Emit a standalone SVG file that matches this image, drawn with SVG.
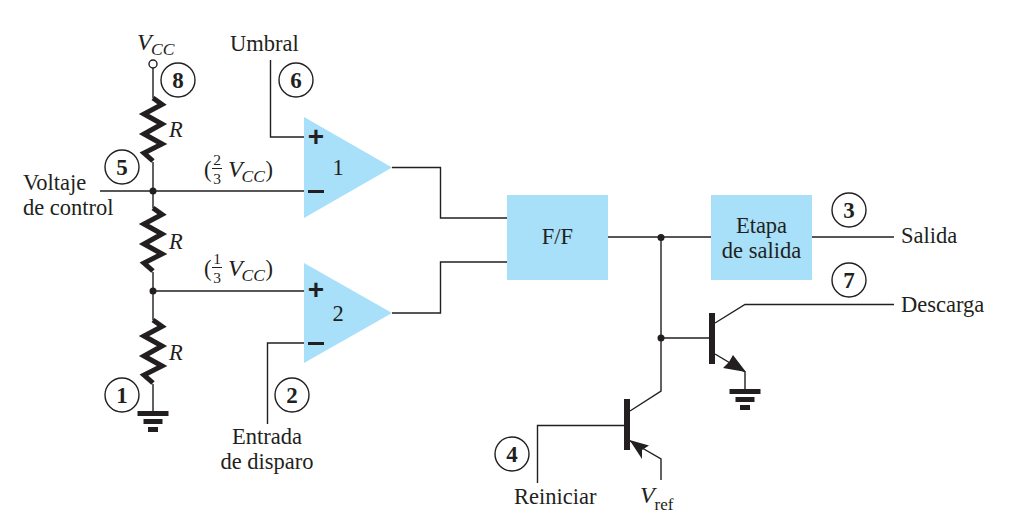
<svg xmlns="http://www.w3.org/2000/svg" width="1034" height="529" viewBox="0 0 1034 529">
<defs>
<style>
.w{fill:none;stroke:#231f20;stroke-width:1.4}
.r{fill:none;stroke:#231f20;stroke-width:5;stroke-linejoin:miter}
.b{fill:#a8dff9}
.k{fill:#231f20}
.c{fill:#fff;stroke:#231f20;stroke-width:1.4}
text{font-family:"Liberation Serif",serif;font-size:22.5px;fill:#231f20}
.n{font-weight:bold;font-size:23px;text-anchor:middle}
.i{font-style:italic}
.f{font-size:15.500px;text-anchor:middle}
.m{text-anchor:middle}
.p{font-family:"Liberation Sans",sans-serif;font-weight:bold;font-size:28px;text-anchor:middle}
.v{font-style:italic;font-size:24px}
.u{font-style:italic;font-size:17.500px}
</style>
<path id="res" class="r" d="M0 0 L9 6.500 L-9 16 L9 26 L-9 36 L9 46 L-9 55 L0 63"/>
<g id="gnd"><rect class="k" x="-15.500" y="0" width="31" height="5"/><rect class="k" x="-9.500" y="8" width="19" height="5"/><rect class="k" x="-5" y="16" width="10" height="5"/></g>
</defs>
<g id="connectors">
<path class="w" d="M153 68V98M153 162V208M153 272V320M153 384V411M100 191H304M153 291H304"/>
<path class="w" d="M270.500 60V137H304M267.500 424V343H304"/>
<path class="w" d="M392 167.500H440.500V218H507M392 313H440.500V262H507"/>
<path class="w" d="M608 237H711M812 237H894M661 237V391L630 411"/>
<path class="w" d="M661 338H710M715 323L745 304.500H894"/>
<path class="w" d="M715 354L745 372V389"/>
<path class="k" d="M746 372L723 368L729 362L733 355Z"/>
<path class="w" d="M630 441L661 459V480"/>
<path class="k" d="M629.500 440L649 445.500L642 450L642 459Z"/>
<path class="w" d="M537.500 483V425.500H625"/>
<circle class="k" cx="153" cy="191" r="3.500"/>
<circle class="k" cx="153" cy="291" r="3.500"/>
<circle class="k" cx="661" cy="237.500" r="3.500"/>
<circle class="k" cx="661" cy="338" r="3.500"/>
</g>
<g id="vcc"><circle class="c" cx="153" cy="64" r="4"/><text class="v" x="137" y="50">V</text><text class="u" x="151" y="55">CC</text></g>
<g id="r1"><use href="#res" x="153" y="98"/><text class="i" x="169" y="137">R</text></g>
<g id="r2"><use href="#res" x="153" y="208"/><text class="i" x="169" y="249">R</text></g>
<g id="r3"><use href="#res" x="153" y="320"/><text class="i" x="169" y="360">R</text></g>
<g id="gnd1"><use href="#gnd" x="153" y="411"/></g>
<g id="gnd2"><use href="#gnd" x="745" y="389"/></g>
<g id="opamp1"><path class="b" d="M304 117L392 167.500L304 218Z"/><text class="p" x="316" y="146">+</text><rect class="k" x="308" y="190" width="16" height="3"/><text class="m" x="338" y="175">1</text></g>
<g id="opamp2"><path class="b" d="M304 263L392 313L304 363Z"/><text class="p" x="316" y="299">+</text><rect class="k" x="308" y="342" width="16" height="3"/><text class="m" x="338" y="321">2</text></g>
<g id="ff"><rect class="b" x="507" y="195" width="101" height="85"/><text class="m" x="557.500" y="244">F/F</text></g>
<g id="etapa"><rect class="b" x="711" y="195" width="101" height="85"/><text class="m" x="761.500" y="233">Etapa</text><text class="m" x="761.500" y="258">de salida</text></g>
<g id="q1"><rect class="k" x="709" y="313" width="6" height="51"/></g>
<g id="q2"><rect class="k" x="624" y="399" width="6" height="51"/></g>
<g id="pin8"><circle class="c" cx="178" cy="80" r="17"/><text class="n" x="178" y="87.500">8</text></g>
<g id="pin6"><circle class="c" cx="296" cy="80" r="17"/><text class="n" x="296" y="87.500">6</text></g>
<g id="pin5"><circle class="c" cx="122" cy="167" r="17"/><text class="n" x="122" y="174.500">5</text></g>
<g id="pin1"><circle class="c" cx="122" cy="395" r="17"/><text class="n" x="122" y="402.500">1</text></g>
<g id="pin2"><circle class="c" cx="292" cy="395" r="17"/><text class="n" x="292" y="402.500">2</text></g>
<g id="pin3"><circle class="c" cx="849" cy="210" r="17"/><text class="n" x="849" y="217.500">3</text></g>
<g id="pin7"><circle class="c" cx="849" cy="280" r="17"/><text class="n" x="849" y="287.500">7</text></g>
<g id="pin4"><circle class="c" cx="512" cy="454" r="17"/><text class="n" x="512" y="461.500">4</text></g>
<g id="labels">
<text x="230" y="51">Umbral</text>
<text x="23" y="190">Voltaje</text>
<text x="23" y="215">de control</text>
<text class="m" x="267" y="444">Entrada</text>
<text class="m" x="267" y="469">de disparo</text>
<text x="901" y="243">Salida</text>
<text x="901" y="312">Descarga</text>
<text x="514" y="504">Reiniciar</text>
<text class="v" x="640" y="503">V</text><text x="654.500" y="510" style="font-size:17px">ref</text>
<text x="204" y="177">(</text><text class="f" x="217" y="165">2</text><rect class="k" x="212" y="168" width="10" height="1"/><text class="f" x="217" y="184">3</text><text class="v" x="228" y="177">V</text><text class="u" x="241.500" y="182">CC</text><text x="265.500" y="177">)</text>
<text x="204" y="276">(</text><text class="f" x="217" y="264">1</text><rect class="k" x="212" y="267" width="10" height="1"/><text class="f" x="217" y="283">3</text><text class="v" x="228" y="276">V</text><text class="u" x="241.500" y="281">CC</text><text x="265.500" y="276">)</text>
</g>
</svg>
